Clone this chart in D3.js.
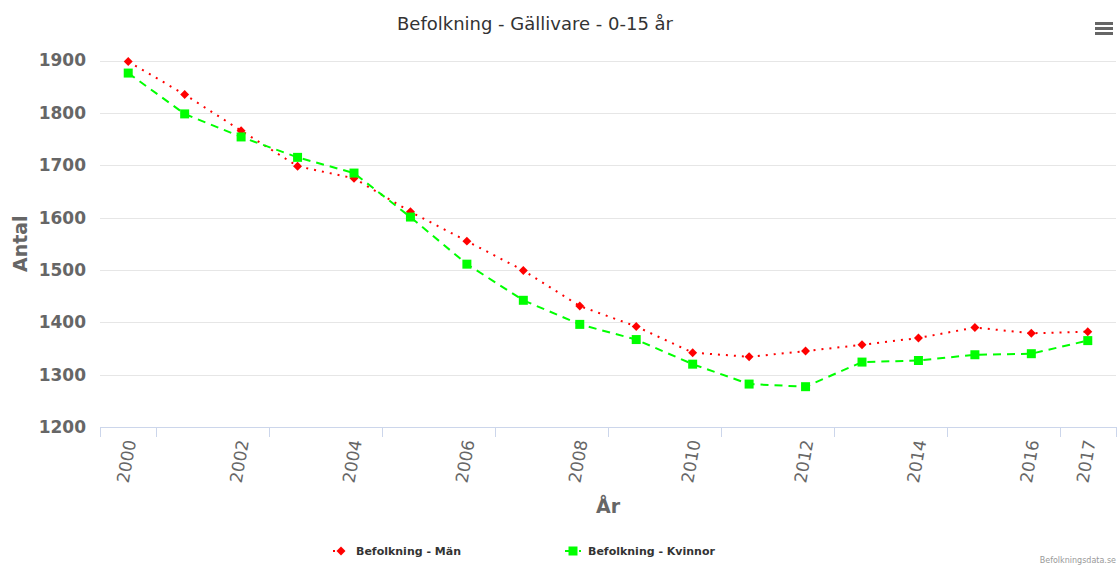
<!DOCTYPE html>
<html>
<head>
<meta charset="utf-8">
<script src="https://cdn.jsdelivr.net/npm/d3@7"></script>
<style>
  body { margin: 0; background: #ffffff; }
</style>
</head>
<body>
<div id="canvas"></div>
<script>
"use strict"

// the data
let years = [2000, 2001, 2002, 2003, 2004, 2005, 2006, 2007, 2008,
             2009, 2010, 2011, 2012, 2013, 2014, 2015, 2016, 2017];
let manValues = [1898, 1835, 1766, 1698, 1675, 1611, 1555, 1499, 1431,
                 1392, 1342, 1334, 1345, 1357, 1370, 1390, 1379, 1382];
let kvinnorValues = [1876, 1798, 1754, 1715, 1685, 1601, 1511, 1442, 1396,
                     1367, 1320, 1282, 1277, 1324, 1327, 1338, 1340, 1365];
let yTicks = [1200, 1300, 1400, 1500, 1600, 1700, 1800, 1900];
let xLabelYears = [2000, 2002, 2004, 2006, 2008, 2010, 2012, 2014, 2016, 2017];

let drawingWidth = 1118;
let drawingHeight = 565;

let plotLeft = 100;
let plotRight = 1116;
let plotTop = 60.5;
let plotBottom = 427;

let fontFamily = "'DejaVu Sans', sans-serif";

let drawing = d3.select("#canvas")
    .append("svg")
    .attr("width", drawingWidth)
    .attr("height", drawingHeight);

let x = d3.scaleBand()
    .domain(years)
    .range([plotLeft, plotRight]);

let y = d3.scaleLinear()
    .domain([1200, 1900])
    .range([plotBottom, plotTop]);

let cx = function (year) { return x(year) + x.bandwidth() / 2; };

/* title */
drawing.append("text")
    .attr("x", 535)
    .attr("y", 30)
    .attr("text-anchor", "middle")
    .attr("font-family", fontFamily)
    .attr("font-size", 18)
    .attr("fill", "#333333")
    .text("Befolkning - Gällivare - 0-15 år");

/* menu button, top right */
[23.5, 28.5, 33.5].forEach(function (yy) {
  drawing.append("line")
      .attr("x1", 1095)
      .attr("x2", 1113)
      .attr("y1", yy)
      .attr("y2", yy)
      .attr("stroke", "#666666")
      .attr("stroke-width", 3);
});

/* grid lines */
drawing.append("g")
    .selectAll("line")
    .data(yTicks)
    .join("line")
    .attr("x1", plotLeft)
    .attr("x2", plotRight)
    .attr("y1", d => Math.round(y(d)) + 0.5)
    .attr("y2", d => Math.round(y(d)) + 0.5)
    .attr("stroke", "#e6e6e6")
    .attr("stroke-width", 1);

/* y axis labels */
let yAxis = drawing.append("g")
    .attr("transform", "translate(" + 86 + ",0)")
    .call(d3.axisLeft(y).tickValues(yTicks).tickSize(0).tickPadding(0).tickFormat(d3.format("d")));
yAxis.select(".domain").remove();
yAxis.selectAll("text")
    .attr("font-family", fontFamily)
    .attr("font-size", 17)
    .attr("font-weight", "bold")
    .attr("fill", "#666666");

/* y axis title */
drawing.append("text")
    .attr("transform", "translate(27," + ((plotTop + plotBottom) / 2) + ") rotate(-90)")
    .attr("text-anchor", "middle")
    .attr("font-family", fontFamily)
    .attr("font-size", 19)
    .attr("font-weight", "bold")
    .attr("fill", "#666666")
    .text("Antal");

/* x axis line */
drawing.append("line")
    .attr("x1", plotLeft)
    .attr("x2", plotRight)
    .attr("y1", plotBottom + 0.5)
    .attr("y2", plotBottom + 0.5)
    .attr("stroke", "#ccd6eb")
    .attr("stroke-width", 1);

/* x axis tick marks, at the band edge right of each labelled year */
let tickEdges = [plotLeft].concat(xLabelYears.map(d => x(d) + x.bandwidth()));
drawing.append("g")
    .selectAll("line")
    .data(tickEdges)
    .join("line")
    .attr("x1", d => Math.round(d) + 0.5)
    .attr("x2", d => Math.round(d) + 0.5)
    .attr("y1", plotBottom)
    .attr("y2", plotBottom + 10)
    .attr("stroke", "#ccd6eb")
    .attr("stroke-width", 1);

/* x axis labels, turned */
drawing.append("g")
    .selectAll("text")
    .data(xLabelYears)
    .join("text")
    .attr("transform", d => "translate(" + (cx(d) + 2) + "," + 440 + ") rotate(-80)")
    .attr("text-anchor", "end")
    .attr("dy", "0.35em")
    .attr("font-family", fontFamily)
    .attr("font-size", 17)
    .attr("fill", "#666666")
    .text(d => d);

/* x axis title */
drawing.append("text")
    .attr("x", (plotLeft + plotRight) / 2)
    .attr("y", 513)
    .attr("text-anchor", "middle")
    .attr("font-family", fontFamily)
    .attr("font-size", 19)
    .attr("font-weight", "bold")
    .attr("fill", "#666666")
    .text("År");

/* the lines */
let lineMan = d3.line()
    .x((d, i) => cx(years[i]))
    .y(d => y(d));

drawing.append("path")
    .datum(manValues)
    .attr("d", lineMan)
    .attr("fill", "none")
    .attr("stroke", "#ff0000")
    .attr("stroke-width", 2)
    .attr("stroke-dasharray", "2,6");

drawing.append("path")
    .datum(kvinnorValues)
    .attr("d", lineMan)
    .attr("fill", "none")
    .attr("stroke", "#00ff00")
    .attr("stroke-width", 2)
    .attr("stroke-dasharray", "8,6");

/* markers */
let diamond = d3.symbol().type(d3.symbolSquare).size(40);
let square = d3.symbol().type(d3.symbolSquare).size(81);

drawing.append("g")
    .selectAll("path")
    .data(manValues)
    .join("path")
    .attr("d", diamond)
    .attr("transform", (d, i) => "translate(" + cx(years[i]) + "," + y(d) + ") rotate(45)")
    .attr("fill", "#ff0000");

drawing.append("g")
    .selectAll("path")
    .data(kvinnorValues)
    .join("path")
    .attr("d", square)
    .attr("transform", (d, i) => "translate(" + cx(years[i]) + "," + y(d) + ")")
    .attr("fill", "#00ff00");

/* legend */
let legendItems = [
  { name: "Befolkning - Män", color: "#ff0000", dash: "2,6", x: 333, marker: "diamond" },
  { name: "Befolkning - Kvinnor", color: "#00ff00", dash: "8,6", x: 565, marker: "square" }
];

let legend = drawing.append("g")
    .selectAll("g")
    .data(legendItems)
    .join("g")
    .attr("transform", d => "translate(" + d.x + ",551)");

legend.append("line")
    .attr("x1", 0)
    .attr("x2", 16)
    .attr("y1", 0)
    .attr("y2", 0)
    .attr("stroke", d => d.color)
    .attr("stroke-width", 2)
    .attr("stroke-dasharray", d => d.dash);

legend.append("path")
    .attr("d", d => d.marker == "diamond" ? diamond() : square())
    .attr("transform", d => "translate(8,0)" + (d.marker == "diamond" ? " rotate(45)" : ""))
    .attr("fill", d => d.color);

legend.append("text")
    .attr("x", 23)
    .attr("y", 4)
    .attr("font-family", fontFamily)
    .attr("font-size", 11)
    .attr("font-weight", "bold")
    .attr("fill", "#333333")
    .text(d => d.name);

/* credits */
drawing.append("text")
    .attr("x", 1116)
    .attr("y", 563)
    .attr("text-anchor", "end")
    .attr("font-family", fontFamily)
    .attr("font-size", 8)
    .attr("fill", "#999999")
    .text("Befolkningsdata.se");
</script>
</body>
</html>
